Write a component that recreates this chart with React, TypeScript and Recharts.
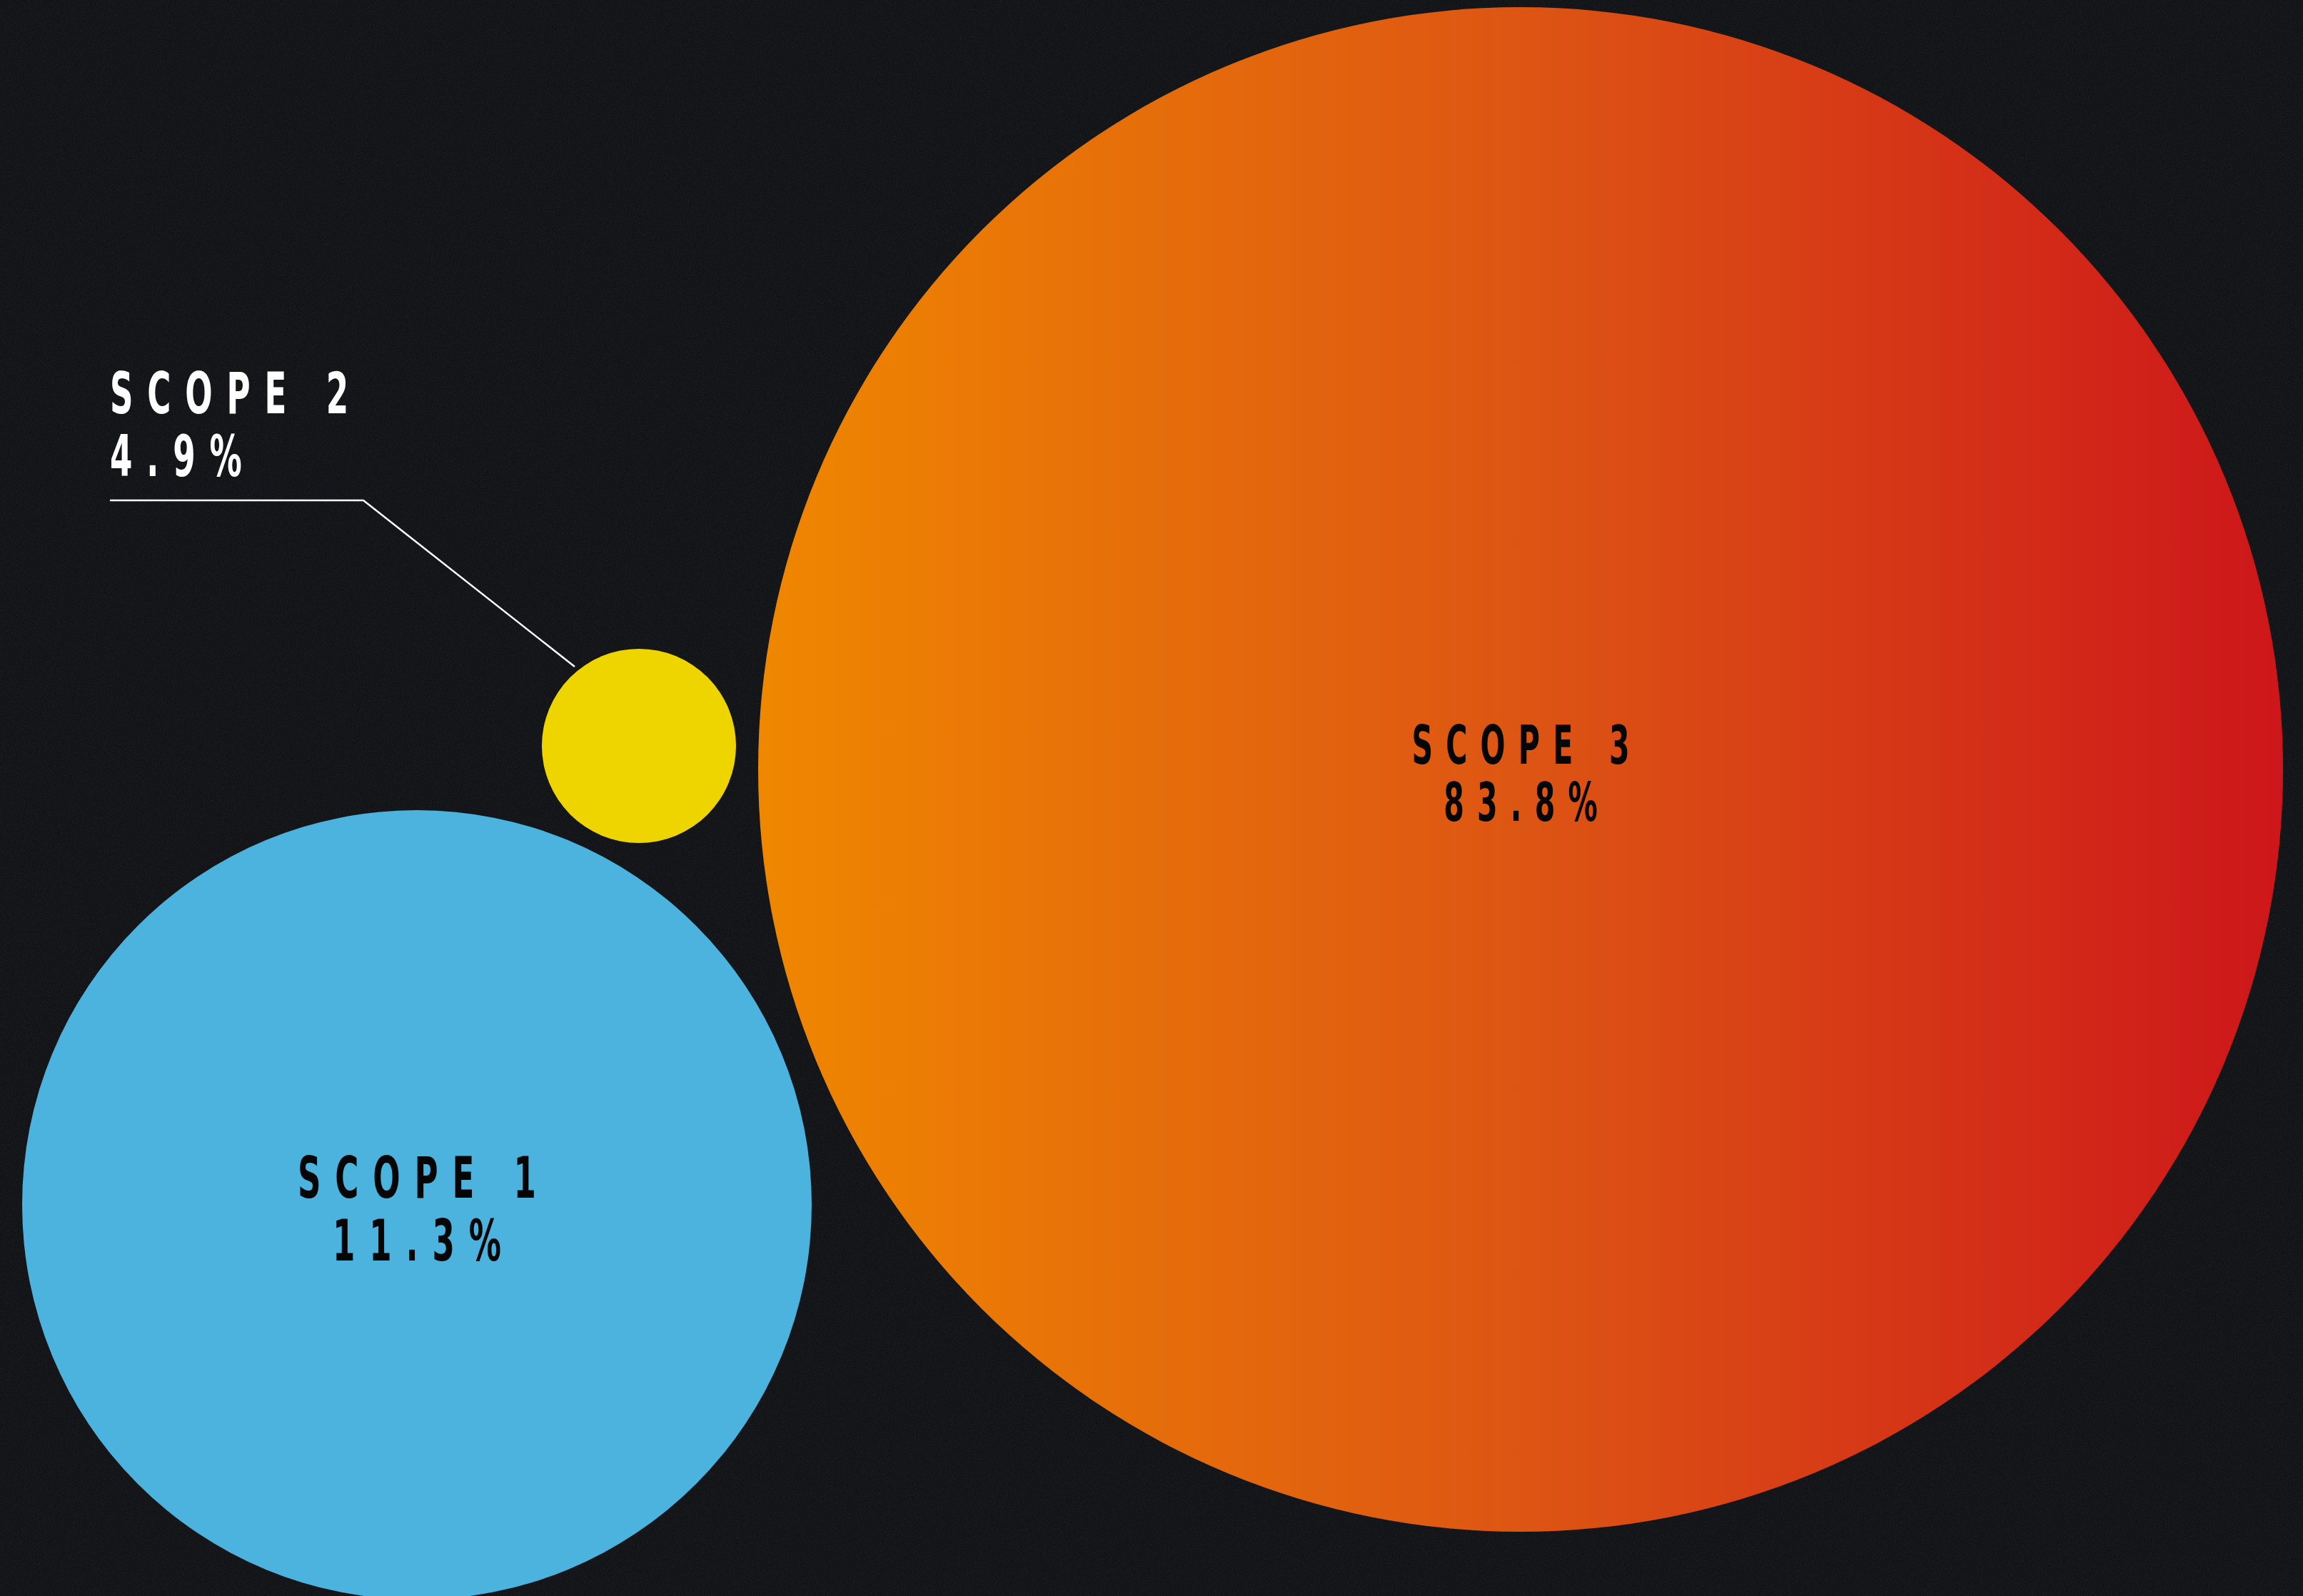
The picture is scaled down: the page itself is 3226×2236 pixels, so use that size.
import React from "react";
import { ScatterChart, Scatter, XAxis, YAxis, ZAxis } from "recharts";

const W = 3226;
const H = 2236;
const UNIT = 20; // px per layout unit

const scopes = ["SCOPE 1", "SCOPE 2", "SCOPE 3"];
const shares = [11.3, 4.9, 83.8];
// bubble layout in layout units (x from left, y from bottom) and bubble radius
const bubbleX = [29.2, 44.75, 106.5];
const bubbleY = [27.4, 59.55, 57.9];
const bubbleR = [27.65, 6.8, 53.4];
const fills = ["#4bb3de", "#efd500", "url(#scope3Grad)"];

const data = scopes.map((name, i) => ({
  name,
  share: shares[i],
  x: bubbleX[i],
  y: bubbleY[i],
  z: bubbleR[i] * bubbleR[i],
  fill: fills[i],
  outside: bubbleR[i] < 10,
}));

const maxZ = Math.max(...data.map((d) => d.z));

const FONT = "'DejaVu Sans Condensed', 'DejaVu Sans', sans-serif";
const SX = 0.62;

const Spaced = ({ x, y, text, anchor, fill, size }: any) => {
  // condensed caps: squeeze horizontally, trailing letter-spacing offset for centred text
  const ls = (size * 30) / 76;
  const shift = anchor === "middle" ? (ls * SX) / 2 : 0;
  return (
    <text
      transform={`translate(${x + shift},${y}) scale(${SX},1)`}
      textAnchor={anchor}
      fontFamily={FONT}
      fontSize={size}
      fontWeight={700}
      letterSpacing={ls}
      fill={fill}
    >
      {text}
    </text>
  );
};

const Bubble = (props: any) => {
  const { cx, cy, payload } = props;
  const r = props.width ? props.width / 2 : Math.sqrt(props.size / Math.PI);
  const label = `${payload.share}%`;

  if (payload.outside) {
    return (
      <g>
        <circle cx={cx} cy={cy} r={r} fill={payload.fill} />
        <polyline
          points={`${cx - 741},${cy - 344} ${cx - 386},${cy - 344} ${cx - 90},${cy - 111}`}
          fill="none"
          stroke="#ffffff"
          strokeWidth={2.5}
        />
        <Spaced x={cx - 741} y={cy - 466} size={81} text={payload.name} anchor="start" fill="#ffffff" />
        <Spaced x={cx - 741} y={cy - 378} size={81} text={label} anchor="start" fill="#ffffff" />
      </g>
    );
  }

  const big = r > 800;
  const size = big ? 74 : 81;
  return (
    <g>
      <circle cx={cx} cy={cy} r={r} fill={payload.fill} />
      <Spaced x={cx} y={cy + (big ? -8 : -10)} size={size} text={payload.name} anchor="middle" fill="#060606" />
      <Spaced x={cx} y={cy + (big ? 72 : 78)} size={size} text={label} anchor="middle" fill="#060606" />
    </g>
  );
};

export default function App() {
  return (
    <div
      style={{
        position: "absolute",
        left: 0,
        top: 0,
        width: W,
        height: H,
        background: "#101114",
        overflow: "hidden",
      }}
    >
      <svg width={W} height={H} style={{ position: "absolute", left: 0, top: 0 }}>
        <filter id="grain">
          <feTurbulence type="fractalNoise" baseFrequency="0.9" numOctaves={2} seed={3} />
          <feColorMatrix
            type="matrix"
            values="0 0 0 0 1  0 0 0 0 1  0 0 0 0 1  0.12 0 0 0 -0.04"
          />
        </filter>
        <rect width={W} height={H} filter="url(#grain)" />
      </svg>
      <div style={{ position: "absolute", left: 0, top: 0 }}>
        <ScatterChart width={W} height={H} margin={{ top: 0, right: 0, bottom: 0, left: 0 }}>
          <defs>
            <linearGradient id="scope3Grad" x1="0" y1="0" x2="1" y2="0">
              <stop offset="0%" stopColor="#ef8700" />
              <stop offset="50%" stopColor="#dd5513" />
              <stop offset="100%" stopColor="#cd161a" />
            </linearGradient>
          </defs>
          <XAxis type="number" dataKey="x" domain={[0, W / UNIT]} hide />
          <YAxis type="number" dataKey="y" domain={[0, H / UNIT]} hide />
          <ZAxis
            type="number"
            dataKey="z"
            domain={[0, maxZ]}
            range={[0, maxZ * UNIT * UNIT * Math.PI]}
          />
          <Scatter data={data} shape={<Bubble />} isAnimationActive={false} />
        </ScatterChart>
      </div>
    </div>
  );
}
